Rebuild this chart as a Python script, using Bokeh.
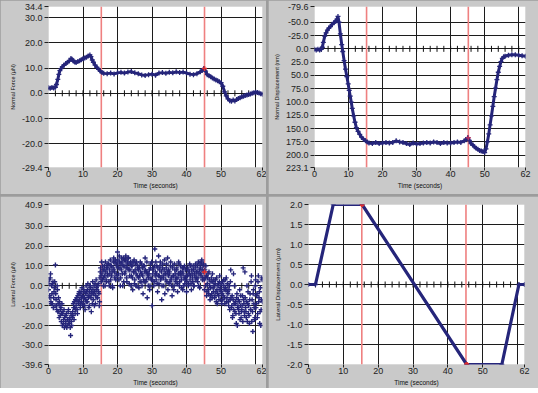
import numpy as np
from bokeh.plotting import figure
from bokeh.models import Range1d, FixedTicker, PrintfTickFormatter, Span
from bokeh.layouts import column, row
from bokeh.embed import file_html
from bokeh.resources import INLINE

# ---------------- data ----------------
x_tick_values = [0, 10, 20, 30, 40, 50, 62]
x_grid_values = [10, 20, 30, 40, 50, 60]
zero_axis_ticks = list(range(2, 62, 2))
cursor_times = [15.3, 45.2]

# Normal force (uN)
nf_t = [0, 0.5, 1, 1.5, 2, 2.3, 2.7, 3, 3.3, 3.6, 4, 4.5, 5, 5.5, 6, 6.5, 6.8, 7.2, 7.6, 8,
        8.5, 9, 9.5, 10, 10.5, 11, 11.5, 12, 12.3, 12.7, 13, 13.5, 14, 14.5, 15, 15.5, 16, 17, 18, 19,
        20, 21, 22, 23, 24, 25, 26, 27, 28, 29, 30, 31, 32, 33, 34, 35, 36, 37, 38, 39,
        40, 41, 42, 43, 44, 44.5, 45, 45.5, 46, 46.5, 47, 47.5, 48, 48.5, 49, 49.5, 50, 50.5, 51, 51.5,
        52, 52.5, 53, 53.5, 54, 54.5, 55, 55.5, 56, 56.5, 57, 57.5, 58, 58.5, 59, 59.5, 60, 60.5, 61, 61.5, 62]
nf_v = [2.2, 2.0, 2.3, 2.1, 2.4, 3.5, 5.5, 7.5, 9.0, 9.8, 10.5, 11.2, 11.8, 12.3, 12.8, 13.8, 13.5, 12.8, 12.4, 12.2,
        12.6, 12.9, 13.3, 13.7, 14.0, 14.3, 14.8, 15.2, 14.5, 13.2, 12.3, 11.2, 10.3, 9.5, 8.8, 8.2, 7.9, 7.8, 8.0, 7.7,
        8.1, 8.3, 8.0, 8.4, 8.6, 8.1, 7.8, 7.3, 7.1, 7.4, 7.6, 7.2, 8.0, 8.2, 7.9, 8.3, 8.1, 8.5, 8.2, 8.4,
        8.0, 7.6, 7.4, 7.8, 8.5, 9.0, 9.8, 8.8, 7.4, 7.0, 6.6, 6.1, 5.7, 5.3, 5.0, 4.6, 4.2, 2.8, 0.6, -1.0,
        -2.2, -2.9, -3.1, -2.7, -3.0, -2.5, -2.1, -1.8, -1.4, -1.2, -0.9, -0.7, -0.5, -0.3, 0.0, 0.2, 0.4, 0.3, 0.1, -0.2, -0.4]

# Normal displacement (nm)
nd_t = [0, 0.5, 1, 1.5, 2, 2.3, 2.6, 3, 3.4, 3.8, 4.2, 4.7, 5.2, 5.7, 6.2, 6.6, 6.9, 7.2, 7.6, 8.0,
        8.3, 8.7, 9.1, 9.5, 9.9, 10.2, 10.5, 10.8, 11.1, 11.5, 11.9, 12.3, 12.8, 13.3, 13.8, 14.4, 15.0, 15.5, 16, 17,
        18, 19, 20, 21, 22, 23, 24, 25, 26, 27, 28, 29, 30, 31, 32, 33, 34, 35, 36, 37,
        38, 39, 40, 41, 42, 43, 44, 44.5, 45, 45.5, 46, 46.5, 47, 47.5, 48, 48.5, 49, 49.5, 50, 50.4,
        50.8, 51.2, 51.6, 52, 52.4, 52.8, 53.2, 53.6, 54, 54.4, 54.8, 55.2, 55.6, 56, 57, 58, 59, 60, 61, 62]
nd_v = [1, 2, 1, 2, 1, -3, -12, -24, -30, -35, -39, -42, -46, -49, -52, -56, -61, -50, -28, -8,
        5, 22, 38, 52, 66, 78, 89, 100, 112, 126, 138, 148, 155, 161, 166, 170, 173, 175, 177, 178,
        176, 178, 177, 176, 177, 176, 173, 175, 176, 178, 180, 177, 179, 178, 177, 176, 177, 175, 176, 178,
        176, 177, 177, 176, 175, 176, 173, 171, 167, 172, 178, 181, 184, 187, 189, 191, 192, 193, 195, 188,
        175, 160, 143, 126, 108, 90, 74, 58, 44, 33, 24, 18, 15, 14, 12, 11, 11, 12, 13, 14]

# Lateral force (uN): two interleaved sample sets, 0.2 s apart each
lf_dt = 0.2
lf_v = [
    -2, 3, -6, 6, -9,   -4, 1, -11, -3, 2,   10.5, -7, -12, -2, -9,   -13, -8, -15, -11, -14,
    -20, -13, -17, -21, -15,   -18, -14, -20, -17, -12,   -19, -16, -25, -18, -15,   -13, -9, -17, -11, -7,
    -10, -6, -14, -8, -4,   -7, -11, -3, -8, -5,   -9, -2, -6, -12, -4,   -3, -8, 1, -6, -10,
    -5, -1, -13, -4, 2,   -7, 0, -3, -9, 3,   -2, -6, 1, -4, -8,   7, 5, 12, 3, 8,
    4, 10, 0, 7, 2,   9, 5, 11, 0, 6,   3, 10, 7, -1, 12,   8, 4, 13, 6, 10,
    17, 9, 3, 12, 0,   11, 14, 6, 10, 2,   13, 7, 15, 4, 11,   9, 14, 1, 8, 12,
    5, 10, -2, 7, 13,   3, 11, 6, 0, 9,   8, -1, 5, 12, 2,   6, 9, -4, 3, 10,
    14, 2, 7, -6, 5,   4, 8, 0, 11, 3,   -10, 6, 9, 2, 18.5,   7, 3, 10, -3, 5,
    1, 8, 12, 4, -7,   9, 5, 0, 13, 6,   3, 11, 7, -2, 8,   6, 2, 12, 4, -5,
    10, 5, 0, 8, 3,   4, 9, -3, 6, 11,   2, 7, 5, -1, 9,   6, 0, 10, 3, 4,
    -3, 5, 8, 1, 7,   3, 10, -2, 6, 2,   8, 0, 5, 11, 4,   7, 2, 12, 6, -1,
    9, 5, 13, 3, 10,   7, -2, 4, 10, -5,   1, 6, -4, 3, -7,   -1, 4, -6, 2, -3,
    0, -5, 3, -8, -2,   -4, 1, -7, 5, -1,   -3, -9, 2, -5, 0,   -6, 3, -2, -8, 1,
    -4, -10, 0, -7, 8,   -11, -5, -15, 6, -9,   -13, -8, -19, -4, -11,   -7, -14, -2, -10, -16,
    -12, -5, 9, -9, -15,   -6, -13, -8, -18, -3,   -10, -19, -4, -12, 5,   -7, -23, -2, -11, -16,
    3, -9, -4, -14, 5,   -6, -19, -1, -12, 4,   -8]
lf_v2 = [
    1, -5, 4, -8, 0,   -9, 2, -6, -1, -10,   -4, -10, 0, -13, -6,   -16, -10, -12, -18, -9,
    -14, -19, -12, -16, -20,   -15, -21, -17, -13, -19,   -17, -21, -14, -20, -16,   -15, -11, -8, -14, -12,
    -7, -12, -5, -9, -3,   -4, -9, -6, -1, -10,   -6, -3, -10, -7, 0,   -8, -2, -5, -11, -3,
    0, -6, -3, -9, -2,   -4, -10, 1, -5, -1,   -6, 0, -3, -10, 4,   9, 2, 6, 10, 0,
    8, 5, 12, 3, 9,   6, 11, 2, 8, 13,   10, 5, 0, 9, 14,   7, 12, 3, 11, 5,
    13, 6, 15, 9, 4,   8, 12, 0, 14, 10,   6, 13, 9, 2, 12,   14, 8, 5, 11, 0,
    10, 4, 12, 7, 1,   8, 0, 12, 5, 10,   4, 9, 2, 7, 11,   0, 5, 10, 2, 7,
    8, 3, 12, 6, 0,   6, -2, 9, 4, 12,   3, 8, 0, 10, 5,   12, 6, 1, 9, 15,
    5, 10, 3, 7, 0,   11, 4, 8, -4, 6,   9, 2, 14, 5, 1,   7, 10, 3, 0, 9,
    5, -2, 11, 6, 2,   8, 1, 4, 12, 0,   6, 10, 3, 7, -2,   9, 4, 1, 8, 5,
    2, 9, 0, 6, 11,   5, 1, 8, 4, 10,   0, 6, 9, 3, 7,   10, 4, 0, 8, 11,
    6, 12, 8, 4, 11,   3, 8, 0, 5, -3,   4, -2, 7, 0, -5,   2, -4, 6, -1, 3,
    -6, 1, -3, 4, -9,   0, -5, 2, -2, -7,   1, -4, -7, 3, -2,   -9, -1, 4, -6, -3,
    -8, -2, -12, 2, -6,   -10, -16, -7, -12, 0,   -9, -14, -6, -20, -10,   -12, -8, -17, -5, -13,
    -10, -18, -7, -13, 7,   -11, -16, 0, -9, -14,   -15, -7, -12, 2, -18,   -13, -4, -9, -17, 0,
    -11, -5, -16, 2, -8,   -3, -13, -20, -7, 3]
lf_t = [round(i * lf_dt, 1) for i in range(len(lf_v))]
lf_t2 = [round(i * lf_dt + 0.1, 1) for i in range(len(lf_v2))]

# Lateral displacement (um), corner points of the motion profile
ld_t = [0, 2.0, 7.1, 15.4, 45.4, 55.5, 60.4, 62]
ld_v = [0.0, 0.0, 2.0, 2.0, -2.0, -2.0, 0.0, 0.0]

# highlighted samples at the cursors
nf_cursor = ([45.2], [9.8])
nd_cursor = ([45.2], [167])
lf_cursor = ([45.2], [7.0])
ld_cursor = ([15.4, 45.4], [2.0, -2.0])

# ---------------- styling ----------------
NAVY = "#25257a"
GRID = "#1c1c1c"
PANEL = "#c9c9c9"
CURSOR = "#ef8080"
FONT = "Liberation Sans"


def make_panel(width, height, bl, br, bt, bb, y_start, y_end, y_ticks, y_grid, ylabel, ylabel_size):
    p = figure(width=width, height=height, output_backend="svg", toolbar_location=None,
               x_range=Range1d(0, 62), y_range=Range1d(y_start, y_end),
               min_border_left=bl, min_border_right=br, min_border_top=bt, min_border_bottom=bb)
    p.background_fill_color = "white"
    p.border_fill_color = PANEL
    p.outline_line_color = None
    p.xaxis.ticker = FixedTicker(ticks=x_tick_values)
    p.xgrid.ticker = FixedTicker(ticks=x_grid_values)
    p.yaxis.ticker = FixedTicker(ticks=y_ticks)
    p.ygrid.ticker = FixedTicker(ticks=y_grid)
    p.yaxis.formatter = PrintfTickFormatter(format="%.1f")
    for ax in (p.xaxis[0], p.yaxis[0]):
        ax.axis_line_color = None
        ax.major_tick_in = 0
        ax.major_tick_line_color = "#202020"
        ax.minor_tick_line_color = None
        ax.major_label_text_font = FONT
        ax.major_label_text_font_size = "9px"
        ax.major_label_text_color = "#222222"
        ax.axis_label_text_font = FONT
        ax.axis_label_text_font_style = "normal"
        ax.axis_label_text_color = "#111111"
    p.yaxis.major_tick_out = 4
    p.yaxis.major_label_standoff = 2
    p.xaxis.major_tick_out = 3
    p.xaxis.major_label_standoff = 0
    p.xaxis.axis_label = "Time (seconds)"
    p.xaxis.axis_label_text_font_size = "6.5px"
    p.xaxis.axis_label_standoff = 2
    p.yaxis.axis_label = ylabel
    p.yaxis.axis_label_text_font_size = ylabel_size
    p.yaxis.axis_label_standoff = 3
    p.grid.grid_line_color = GRID
    p.grid.grid_line_width = 1
    for t in cursor_times:
        p.add_layout(Span(location=t, dimension="height", line_color=CURSOR,
                          line_width=1.6, level="underlay"))
    p.scatter(zero_axis_ticks, [0] * len(zero_axis_ticks), marker="dash", angle=np.pi / 2,
              size=6, line_color="#111111", line_width=1)
    return p


p_nf = make_panel(266, 194, 48, 4, 5, 26, -29.4, 34.4,
                  [-29.4, -20, -10, 0, 10, 20, 30, 34.4], [-20, -10, 0, 10, 20, 30],
                  "Normal Force (\u00b5N)", "5.5px")
p_nf.line(nf_t, nf_v, line_color=NAVY, line_width=3)
p_nf.scatter(nf_t, nf_v, marker="cross", size=5, line_color=NAVY, line_width=1.3)
p_nf.scatter(*nf_cursor, marker="cross", size=5, line_color="#e03030", line_width=1.5)

p_nd = make_panel(270, 194, 46, 13, 6, 27, 223.1, -79.6,
                  [-79.6, -50, -25, 0, 25, 50, 75, 100, 125, 150, 175, 200, 223.1],
                  [-50, -25, 0, 25, 50, 75, 100, 125, 150, 175, 200],
                  "Normal Displacement (nm)", "5.5px")
p_nd.line(nd_t, nd_v, line_color=NAVY, line_width=3)
p_nd.scatter(nd_t, nd_v, marker="cross", size=5, line_color=NAVY, line_width=1.3)
p_nd.scatter(*nd_cursor, marker="cross", size=5, line_color="#b03060", line_width=1.5)

p_lf = make_panel(266, 192, 48, 4, 8, 23, -39.6, 40.9,
                  [-39.6, -30, -20, -10, 0, 10, 20, 30, 40.9], [-30, -20, -10, 0, 10, 20, 30],
                  "Lateral Force (\u00b5N)", "5.5px")
p_lf.scatter(lf_t, lf_v, marker="cross", size=5, line_color=NAVY, line_width=1.4)
p_lf.scatter(lf_t2, lf_v2, marker="cross", size=5, line_color=NAVY, line_width=1.4)
p_lf.scatter(*lf_cursor, marker="cross", size=5, line_color="#e03030", line_width=1.5)

p_ld = make_panel(270, 192, 40, 14, 6, 24, -2.0, 2.0,
                  [-2.0, -1.5, -1.0, -0.5, 0.0, 0.5, 1.0, 1.5, 2.0],
                  [-1.5, -1.0, -0.5, 0.0, 0.5, 1.0, 1.5],
                  "Lateral Displacement (\u00b5m)", "6.2px")
p_ld.line(ld_t, ld_v, line_color=NAVY, line_width=3.2)
p_ld.scatter(ld_t, ld_v, marker="cross", size=5, line_color=NAVY, line_width=1.3)
p_ld.scatter(*ld_cursor, marker="circle", size=4, fill_color="#e03030", line_color="#e03030")

layout = column(row(p_nf, p_nd, spacing=2), row(p_lf, p_ld, spacing=2), spacing=2,
                styles={"background-color": "#9c9c9c"})

open("out.html", "w").write(file_html(layout, INLINE))
